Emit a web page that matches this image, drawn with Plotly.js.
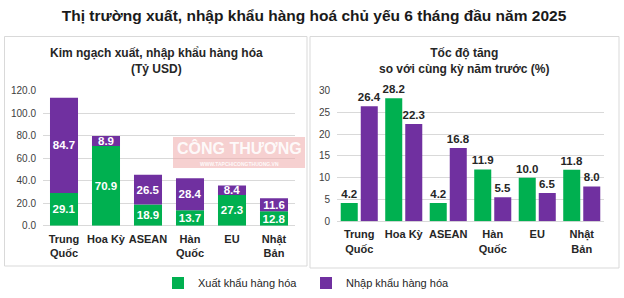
<!DOCTYPE html>
<html>
<head>
<meta charset="utf-8">
<script src="https://cdn.plot.ly/plotly-3.0.1.min.js"></script>
<style>html,body{margin:0;padding:0;background:#fff;}#chart{width:624px;height:298px;}</style>
</head>
<body>
<div id="chart"></div>
<script>
// ---- data ----
const categories = ["Trung<br>Quốc", "Hoa Kỳ", "ASEAN", "Hàn<br>Quốc", "EU", "Nhật<br>Bản"];
const exportValue = [29.1, 70.9, 18.9, 13.7, 27.3, 12.8];   // Tỷ USD
const importValue = [84.7, 8.9, 26.5, 28.4, 8.4, 11.6];     // Tỷ USD
const exportGrowth = [4.2, 28.2, 4.2, 11.9, 10.0, 11.8];    // %
const importGrowth = [26.4, 22.3, 16.8, 5.5, 6.5, 8.0];     // %
const leftTicks = [0, 20, 40, 60, 80, 100, 120];
const rightTicks = [0, 5, 10, 15, 20, 25, 30];
const seriesNames = ["Xuất khẩu hàng hóa", "Nhập khẩu hàng hóa"];
const mainTitle = "Thị trường xuất, nhập khẩu hàng hoá chủ yếu 6 tháng đầu năm 2025";
const leftTitle = "Kim ngạch xuất, nhập khẩu hàng hóa<br>(Tỷ USD)";
const rightTitle = "Tốc độ tăng<br>so với cùng kỳ năm trước (%)";

const GREEN = "#00b050", PURPLE = "#7030a0";
const W = 624, H = 298;
const px = v => v / W, py = v => 1 - v / H;
const FONT = "Liberation Sans, Arial, sans-serif";

const traces = [
  {
    type: "bar", name: seriesNames[0], x: categories, y: exportValue,
    xaxis: "x", yaxis: "y", offsetgroup: "L", width: 0.667,
    marker: {color: GREEN},
    text: exportValue.map(v => v.toFixed(1)), textposition: "inside", textangle: 0,
    insidetextanchor: "middle", constraintext: "none",
    textfont: {color: "#ffffff", size: 11.5, family: FONT, weight: "bold"},
    hoverinfo: "skip", legendrank: 1
  },
  {
    type: "bar", name: seriesNames[1], x: categories, y: importValue,
    base: exportValue,
    xaxis: "x", yaxis: "y", offsetgroup: "L", width: 0.667,
    marker: {color: PURPLE},
    text: importValue.map(v => v.toFixed(1)), textposition: "inside", textangle: 0,
    insidetextanchor: "middle", constraintext: "none",
    textfont: {color: "#ffffff", size: 11.5, family: FONT, weight: "bold"},
    hoverinfo: "skip", legendrank: 2
  },
  {
    type: "bar", name: seriesNames[0], x: categories, y: exportGrowth,
    xaxis: "x2", yaxis: "y2", offsetgroup: "E", showlegend: false,
    marker: {color: GREEN},
    text: exportGrowth.map(v => v.toFixed(1)), textposition: "outside", textangle: 0,
    constraintext: "none", cliponaxis: false,
    textfont: {color: "#262626", size: 11.5, family: FONT, weight: "bold"},
    hoverinfo: "skip"
  },
  {
    type: "bar", name: seriesNames[1], x: categories, y: importGrowth,
    xaxis: "x2", yaxis: "y2", offsetgroup: "I", showlegend: false,
    marker: {color: PURPLE},
    text: importGrowth.map(v => v.toFixed(1)), textposition: "outside", textangle: 0,
    constraintext: "none", cliponaxis: false,
    textfont: {color: "#262626", size: 11.5, family: FONT, weight: "bold"},
    hoverinfo: "skip"
  }
];

const catAxis = (domain) => ({
  domain: domain, type: "category", showgrid: false, zeroline: false,
  showline: false, ticks: "", ticklabelstandoff: 5, fixedrange: true, tickangle: 0,
  tickfont: {family: FONT, size: 11, color: "#262626", weight: "bold"}
});
const valAxis = (domain, range, ticks, fmt, anchor) => ({
  domain: domain, range: range, tickvals: ticks,
  ticktext: ticks.map(fmt), showgrid: true, gridcolor: "#d9d9d9", gridwidth: 1,
  zeroline: true, zerolinecolor: "#d9d9d9", zerolinewidth: 1,
  showline: false, ticks: "", ticklabelstandoff: 6, anchor: anchor, fixedrange: true,
  tickfont: {family: FONT, size: 10, color: "#404040"}
});

const layout = {
  width: W, height: H, autosize: false,
  margin: {l: 0, r: 0, t: 0, b: 0, pad: 0},
  paper_bgcolor: "#ffffff", plot_bgcolor: "rgba(0,0,0,0)",
  barmode: "group", bargap: 0.1, bargroupgap: 0.15,
  font: {family: FONT, color: "#262626"},
  title: {
    text: mainTitle, x: px(314), xanchor: "center", y: py(16), yanchor: "middle",
    font: {family: FONT, size: 15.5, color: "#1a1a1a", weight: "bold"}
  },
  xaxis: catAxis([px(43), px(295)]),
  yaxis: valAxis([py(225.7), py(90.7)], [0, 120], leftTicks, v => v.toFixed(1), "x"),
  xaxis2: Object.assign(catAxis([px(337), px(604)]), {anchor: "y2"}),
  yaxis2: valAxis([py(221.3), py(90.5)], [0, 30], rightTicks, v => String(v), "x2"),
  showlegend: true,
  legend: {
    orientation: "h", x: px(158), xanchor: "left", y: py(283), yanchor: "middle",
    entrywidth: 103, entrywidthmode: "pixels", traceorder: "normal",
    font: {family: FONT, size: 11, color: "#262626"},
    bgcolor: "rgba(0,0,0,0)", borderwidth: 0
  },
  shapes: [
    {type: "rect", xref: "paper", yref: "paper", x0: px(4.5), x1: px(307), y0: py(36.5), y1: py(266),
     line: {color: "#d9d9d9", width: 1}, fillcolor: "rgba(0,0,0,0)", layer: "below"},
    {type: "rect", xref: "paper", yref: "paper", x0: px(310), x1: px(619), y0: py(36.5), y1: py(268),
     line: {color: "#d9d9d9", width: 1}, fillcolor: "rgba(0,0,0,0)", layer: "below"},
    {type: "rect", xref: "paper", yref: "paper", x0: px(173), x1: px(305), y0: py(137), y1: py(168),
     line: {width: 0}, fillcolor: "rgba(238,170,170,0.55)", layer: "above"}
  ],
  annotations: [
    {text: leftTitle, xref: "paper", yref: "paper", x: px(156), y: py(61), xanchor: "center", yanchor: "middle",
     showarrow: false, align: "center", font: {family: FONT, size: 12, color: "#262626", weight: "bold"}},
    {text: rightTitle, xref: "paper", yref: "paper", x: px(464), y: py(61), xanchor: "center", yanchor: "middle",
     showarrow: false, align: "center", font: {family: FONT, size: 12, color: "#262626", weight: "bold"}},
    {text: "CÔNG THƯƠNG", xref: "paper", yref: "paper", x: px(239), y: py(148), xanchor: "center", yanchor: "middle",
     showarrow: false, font: {family: FONT, size: 16, color: "rgba(255,255,255,0.9)", weight: "bold"}},
    {text: "WWW.TAPCHICONGTHUONG.VN", xref: "paper", yref: "paper", x: px(239), y: py(163.5), xanchor: "center", yanchor: "middle",
     showarrow: false, font: {family: FONT, size: 5, color: "rgba(255,255,255,0.9)", weight: "bold"}}
  ]
};

Plotly.newPlot("chart", traces, layout, {staticPlot: true, displayModeBar: false});
</script>
</body>
</html>
